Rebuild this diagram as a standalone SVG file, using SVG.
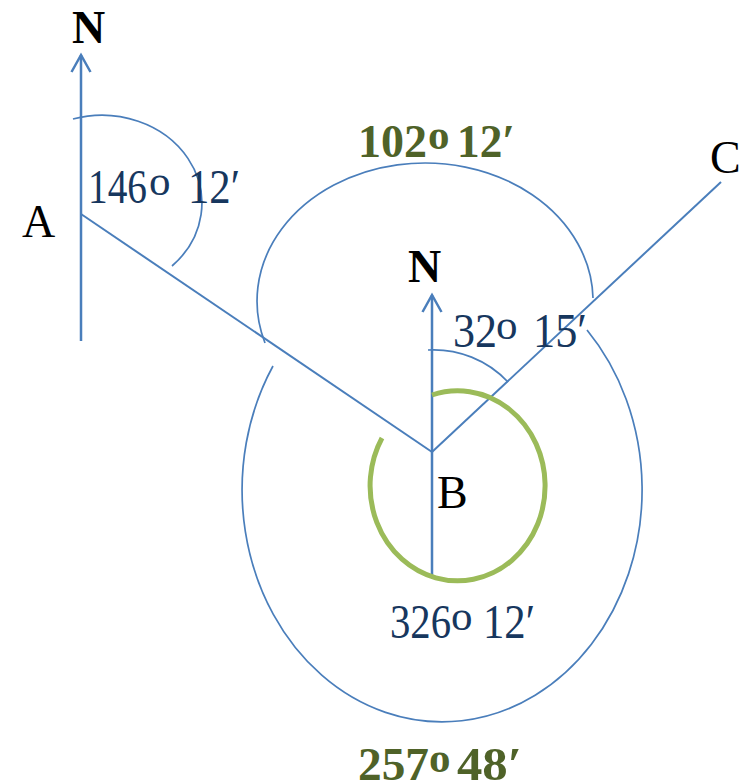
<svg xmlns="http://www.w3.org/2000/svg" width="744" height="784" viewBox="0 0 744 784">
<style>
.ln{fill:none;stroke:#4A7EBB;stroke-width:2}
.nl{fill:none;stroke:#4A7EBB;stroke-width:2.5}
.arc{fill:none;stroke:#4A7EBB;stroke-width:1.7}
.garc{fill:none;stroke:#9BBB59;stroke-width:5}
.pt{font-family:"Liberation Serif",serif;font-size:46px;fill:#000}
.nb{font-family:"Liberation Serif",serif;font-size:46px;font-weight:bold;fill:#000}
.lbl{font-family:"Liberation Serif",serif;font-size:49px;fill:#17375E}
.glbl{font-family:"Liberation Serif",serif;font-size:47px;font-weight:bold;fill:#4F6228}
.sup{font-size:43px}
</style>
<defs>
<marker id="ah" markerUnits="userSpaceOnUse" viewBox="-20 -12 24 24" markerWidth="24" markerHeight="24" refX="0" refY="0" orient="auto">
<path d="M -17 -9.5 L 0 0 L -17 9.5" fill="none" stroke="#4A7EBB" stroke-width="2.5"/>
</marker>
</defs>
<g id="connectors">
<line class="nl" x1="81" y1="341" x2="81" y2="55" marker-end="url(#ah)"/>
<line class="nl" x1="432" y1="577" x2="432" y2="295" marker-end="url(#ah)"/>
<line class="ln" x1="81" y1="214" x2="432" y2="452"/>
<line class="ln" x1="432" y1="452" x2="721" y2="182"/>
<path class="arc" d="M 73 119 A 100 88 0 0 1 172 266"/>
<path class="arc" d="M 428 350 A 102 102 0 0 1 508 382"/>
<path class="arc" d="M 265 343 A 168 138 0 1 1 593 298"/>
<path class="arc" d="M 273 366 A 200 232 0 1 0 587 330"/>
<path class="garc" d="M 432 395 A 87.5 95 0 1 1 382 438"/>
</g>
<g id="N-A"><text class="nb" x="72" y="43">N</text></g>
<g id="N-B"><text class="nb" x="408" y="282">N</text></g>
<g id="A"><text class="pt" x="22" y="237">A</text></g>
<g id="B"><text class="pt" x="437" y="508">B</text></g>
<g id="C"><text class="pt" x="710" y="173">C</text></g>
<g id="angle-A">
<text class="lbl" x="88" y="203" textLength="59" lengthAdjust="spacingAndGlyphs">146</text>
<text class="lbl sup" x="149" y="195">o</text>
<text class="lbl" x="188" y="203" textLength="52" lengthAdjust="spacingAndGlyphs">12′</text>
</g>
<g id="angle-102">
<text class="glbl" x="358" y="157" textLength="69" lengthAdjust="spacingAndGlyphs">102</text>
<text class="glbl sup" x="428" y="149">o</text>
<text class="glbl" x="457" y="157" textLength="58" lengthAdjust="spacingAndGlyphs">12′</text>
</g>
<g id="angle-32">
<text class="lbl" x="453" y="347" textLength="44" lengthAdjust="spacingAndGlyphs">32</text>
<text class="lbl sup" x="496" y="339">o</text>
<text class="lbl" x="533" y="347" textLength="54" lengthAdjust="spacingAndGlyphs">15′</text>
</g>
<g id="angle-326">
<text class="lbl" x="390" y="638" textLength="61" lengthAdjust="spacingAndGlyphs">326</text>
<text class="lbl sup" x="451" y="630">o</text>
<text class="lbl" x="483" y="638" textLength="52" lengthAdjust="spacingAndGlyphs">12′</text>
</g>
<g id="angle-257">
<text class="glbl" x="358" y="780" textLength="71" lengthAdjust="spacingAndGlyphs">257</text>
<text class="glbl sup" x="429" y="772">o</text>
<text class="glbl" x="457" y="780" textLength="65" lengthAdjust="spacingAndGlyphs">48′</text>
</g>
</svg>
